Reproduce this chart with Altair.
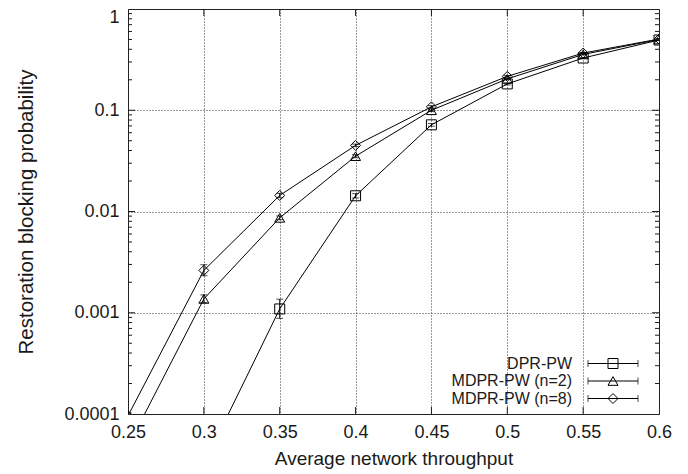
import altair as alt
import pandas as pd

# ---------------- data ----------------
throughput = [0.25, 0.30, 0.35, 0.40, 0.45, 0.50, 0.55, 0.60]
series_names = ["DPR-PW", "MDPR-PW (n=2)", "MDPR-PW (n=8)"]

dpr_pw = [None, 3.2e-5, 0.00109, 0.0143, 0.0718, 0.182, 0.328, 0.494]
dpr_lo = [None, 2.9e-5, 0.00088, 0.0136, 0.0695, 0.178, 0.324, 0.488]
dpr_hi = [None, 3.5e-5, 0.00136, 0.0150, 0.0740, 0.186, 0.332, 0.500]

mdpr2 = [4.8e-5, 0.00137, 0.00866, 0.0352, 0.100, 0.204, 0.356, 0.500]
mdpr2_lo = [4.4e-5, 0.00126, 0.00830, 0.0340, 0.097, 0.200, 0.352, 0.495]
mdpr2_hi = [5.2e-5, 0.00150, 0.00905, 0.0364, 0.103, 0.208, 0.360, 0.505]

mdpr8 = [9.6e-5, 0.00262, 0.0144, 0.0450, 0.108, 0.216, 0.367, 0.505]
mdpr8_lo = [8.9e-5, 0.00232, 0.0137, 0.0437, 0.105, 0.212, 0.363, 0.500]
mdpr8_hi = [1.03e-4, 0.00298, 0.0151, 0.0463, 0.111, 0.220, 0.371, 0.510]

x_ticks = [0.25, 0.30, 0.35, 0.40, 0.45, 0.50, 0.55, 0.60]
y_ticks = [0.0001, 0.001, 0.01, 0.1, 1]
y_minor = [k * 10.0 ** e for e in range(-4, 0) for k in range(2, 10)]

# ---------------- build tables ----------------
rows = []
for name, vals, lo, hi in [
    (series_names[0], dpr_pw, dpr_lo, dpr_hi),
    (series_names[1], mdpr2, mdpr2_lo, mdpr2_hi),
    (series_names[2], mdpr8, mdpr8_lo, mdpr8_hi),
]:
    for xv, v, l, h in zip(throughput, vals, lo, hi):
        if v is None:
            continue
        rows.append({"series": name, "x": xv, "y": v, "lo": l, "hi": h})
df = pd.DataFrame(rows)

W, H = 531, 405
FONT = "Liberation Sans"
INK = "#1a1a1a"

xscale = alt.Scale(domain=[0.25, 0.6], nice=False, zero=False)
yscale = alt.Scale(type="log", domain=[0.0001, 1], nice=False)

x_axis = alt.Axis(values=x_ticks, format=".2~f", title="Average network throughput",
                  grid=True, gridDash=[1, 2], gridColor="#333", gridWidth=1,
                  ticks=False, tickSize=0, domain=False, labelFontSize=18, titleFontSize=19,
                  labelFont=FONT, titleFont=FONT, labelColor=INK, titleColor=INK,
                  titleFontWeight="normal", labelPadding=9, titlePadding=8,
                  labelFlush=False, labelOverlap=False, labelBound=False)
y_axis = alt.Axis(values=y_ticks, format=".4~f", title="Restoration blocking probability",
                  grid=True, gridDash=[1, 2], gridColor="#333", gridWidth=1,
                  ticks=False, tickSize=0, domain=False, labelFontSize=18, titleFontSize=20.5,
                  labelFont=FONT, titleFont=FONT, labelColor=INK, titleColor=INK,
                  titleFontWeight="normal", labelPadding=9, titlePadding=27,
                  labelOffset={"condition": {"test": "datum.value >= 1", "value": 8},
                               "value": 0},
                  labelFlush=False, labelOverlap=False, labelBound=False)

shape_enc = alt.Shape("series:N", scale=alt.Scale(domain=series_names,
                      range=["square", "triangle-up", "diamond"]), legend=None)

base = alt.Chart(df)
X = alt.X("x:Q", scale=xscale, axis=x_axis)
Y = alt.Y("y:Q", scale=yscale, axis=y_axis)

lines = base.mark_line(color="black", strokeWidth=1, clip=True).encode(
    x=X, y=Y, detail="series:N", order="x:Q")
err = base.mark_rule(color="black", strokeWidth=1, clip=True).encode(
    x="x:Q", y="lo:Q", y2="hi:Q")
cap_lo = base.mark_point(shape="M-1,0L1,0", size=49, color="black", strokeWidth=1,
                         clip=True).encode(x="x:Q", y="lo:Q")
cap_hi = base.mark_point(shape="M-1,0L1,0", size=49, color="black", strokeWidth=1,
                         clip=True).encode(x="x:Q", y="hi:Q")
pts = base.mark_point(filled=False, color="black", strokeWidth=1, size=100, opacity=1,
                      clip=True).encode(x="x:Q", y="y:Q", shape=shape_enc)

# inward ticks
xt = alt.Chart(pd.DataFrame({"x": x_ticks[1:-1]}))
xt_bot = xt.mark_rule(color=INK).encode(x="x:Q", y=alt.value(H), y2=alt.value(H - 7))
xt_top = xt.mark_rule(color=INK).encode(x="x:Q", y=alt.value(0), y2=alt.value(7))
ymaj = alt.Chart(pd.DataFrame({"y": y_ticks[1:-1]}))
ymaj_l = ymaj.mark_rule(color=INK).encode(y="y:Q", x=alt.value(0), x2=alt.value(7))
ymaj_r = ymaj.mark_rule(color=INK).encode(y="y:Q", x=alt.value(W), x2=alt.value(W - 7))
ymin = alt.Chart(pd.DataFrame({"y": y_minor}))
ymin_l = ymin.mark_rule(color=INK).encode(y="y:Q", x=alt.value(0), x2=alt.value(4))
ymin_r = ymin.mark_rule(color=INK).encode(y="y:Q", x=alt.value(W), x2=alt.value(W - 4))

main = alt.layer(lines, err, cap_lo, cap_hi, pts, xt_bot, xt_top,
                 ymaj_l, ymaj_r, ymin_l, ymin_r)

# legend (bottom right, labels left of symbols)
leg = alt.Chart(pd.DataFrame({"series": series_names}))
LY = alt.Y("series:N", scale=alt.Scale(type="point", domain=series_names,
           range=[354.5, 389.5], padding=0), axis=None)
leg_text = leg.mark_text(align="right", baseline="middle", fontSize=16, font=FONT,
                         color=INK).encode(y=LY, x=alt.value(444), text="series:N")
leg_line = leg.mark_rule(color="black", strokeWidth=1).encode(
    y=LY, x=alt.value(460), x2=alt.value(510))
leg_cap1 = leg.mark_point(shape="M0,-1L0,1", size=49, color="black", strokeWidth=1).encode(
    y=LY, x=alt.value(460))
leg_cap2 = leg.mark_point(shape="M0,-1L0,1", size=49, color="black", strokeWidth=1).encode(
    y=LY, x=alt.value(510))
leg_pt = leg.mark_point(filled=False, color="black", strokeWidth=1, size=100, opacity=1).encode(
    y=LY, x=alt.value(485), shape=shape_enc)
legend = alt.layer(leg_text, leg_line, leg_cap1, leg_cap2, leg_pt)

chart = alt.layer(main, legend).resolve_scale(y="independent").properties(
    width=W, height=H,
    padding={"left": 120, "top": 1, "right": 21, "bottom": 58},
    autosize=alt.AutoSizeParams(type="none"),
    background="white",
).configure_view(stroke=INK, strokeWidth=1)

chart.save("out.html", embed_options={"renderer": "svg", "actions": False})
